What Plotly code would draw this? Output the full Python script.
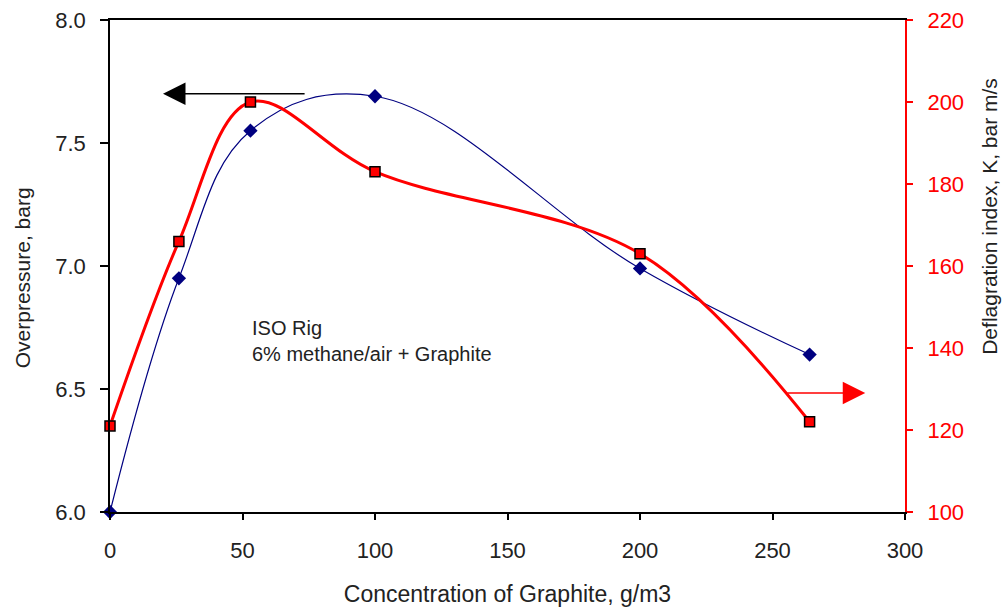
import plotly.graph_objects as go

# Graphite concentration (g/m3)
concentration = [0, 26, 53, 100, 200, 264]
# Peak overpressure (barg) - left axis
overpressure = [6.00, 6.95, 7.55, 7.69, 6.99, 6.64]
# Deflagration index K (bar m/s) - right axis
k_index = [121, 166, 200, 183, 163, 122]

x_ticks = [0, 50, 100, 150, 200, 250, 300]
y_left_ticks = [6.0, 6.5, 7.0, 7.5, 8.0]
y_right_ticks = [100, 120, 140, 160, 180, 200, 220]

NAVY = "#000080"
RED = "#FF0000"
TXT = "#222222"
FONT = "Liberation Sans, Arial, sans-serif"

fig = go.Figure()

fig.add_trace(go.Scatter(
    x=concentration, y=overpressure, mode="lines+markers",
    line=dict(color=NAVY, width=1.2, shape="spline", smoothing=1.1),
    marker=dict(symbol="diamond", size=11, color=NAVY),
    yaxis="y", showlegend=False, cliponaxis=False,
))

fig.add_trace(go.Scatter(
    x=concentration, y=k_index, mode="lines+markers",
    line=dict(color=RED, width=3, shape="spline", smoothing=1.0),
    marker=dict(symbol="square", size=10, color=RED,
                line=dict(color="black", width=1.5)),
    yaxis="y2", showlegend=False, cliponaxis=False,
))

# Arrows pointing each curve to its axis
fig.add_annotation(x=20, y=7.70, ax=74, ay=7.70, xref="x", yref="y",
                   axref="x", ayref="y", showarrow=True, text="",
                   arrowhead=2, arrowsize=3, arrowwidth=1.5,
                   arrowcolor="black")
fig.add_annotation(x=285, y=129, ax=255, ay=129, xref="x", yref="y2",
                   axref="x", ayref="y2", showarrow=True, text="",
                   arrowhead=2, arrowsize=3, arrowwidth=1.5,
                   arrowcolor=RED)

fig.add_annotation(x=53, y=6.80, xref="x", yref="y", xanchor="left",
                   yanchor="top", align="left", showarrow=False,
                   text="ISO Rig<br>6% methane/air + Graphite",
                   font=dict(family=FONT, size=20, color=TXT))

# Axis titles
fig.add_annotation(x=0, y=6.95, xref="paper", yref="y", xshift=-88,
                   xanchor="center", yanchor="middle", textangle=-90,
                   showarrow=False, text="Overpressure, barg",
                   font=dict(family=FONT, size=21, color=TXT))
fig.add_annotation(x=1, y=172, xref="paper", yref="y2", xshift=85,
                   xanchor="center", yanchor="middle", textangle=-90,
                   showarrow=False, text="Deflagration index, K, bar m/s",
                   font=dict(family=FONT, size=21, color=TXT))

fig.update_layout(
    width=1006, height=611, autosize=False,
    margin=dict(l=110, r=101, t=20, b=99),
    paper_bgcolor="white", plot_bgcolor="white",
    font=dict(family=FONT, color=TXT),
    xaxis=dict(
        range=[0, 300], tickvals=x_ticks, showgrid=False, zeroline=False,
        showline=True, linecolor="black", linewidth=1.5, mirror=True,
        ticks="outside", ticklen=6, tickcolor="black", tickwidth=1.5,
        tickfont=dict(family=FONT, size=22, color=TXT),
        ticklabelstandoff=12, automargin=False,
        title=dict(text="Concentration of Graphite, g/m3",
                   font=dict(family=FONT, size=23, color=TXT),
                   standoff=24),
    ),
    yaxis=dict(
        range=[6, 8], tickvals=y_left_ticks, tickformat=".1f",
        showgrid=False, zeroline=False, automargin=False,
        showline=True, linecolor="black", linewidth=1.5,
        ticks="outside", ticklen=8, tickcolor="black", tickwidth=1.5,
        tickfont=dict(family=FONT, size=22, color=TXT),
        ticklabelstandoff=10,
    ),
    yaxis2=dict(
        range=[100, 220], tickvals=y_right_ticks, overlaying="y",
        side="right", showgrid=False, zeroline=False, automargin=False,
        showline=True, linecolor=RED, linewidth=2,
        ticks="outside", ticklen=6, tickcolor=RED, tickwidth=1.5,
        tickfont=dict(family=FONT, size=22, color=RED),
        ticklabelstandoff=10,
    ),
)

fig.write_html("out.html")
